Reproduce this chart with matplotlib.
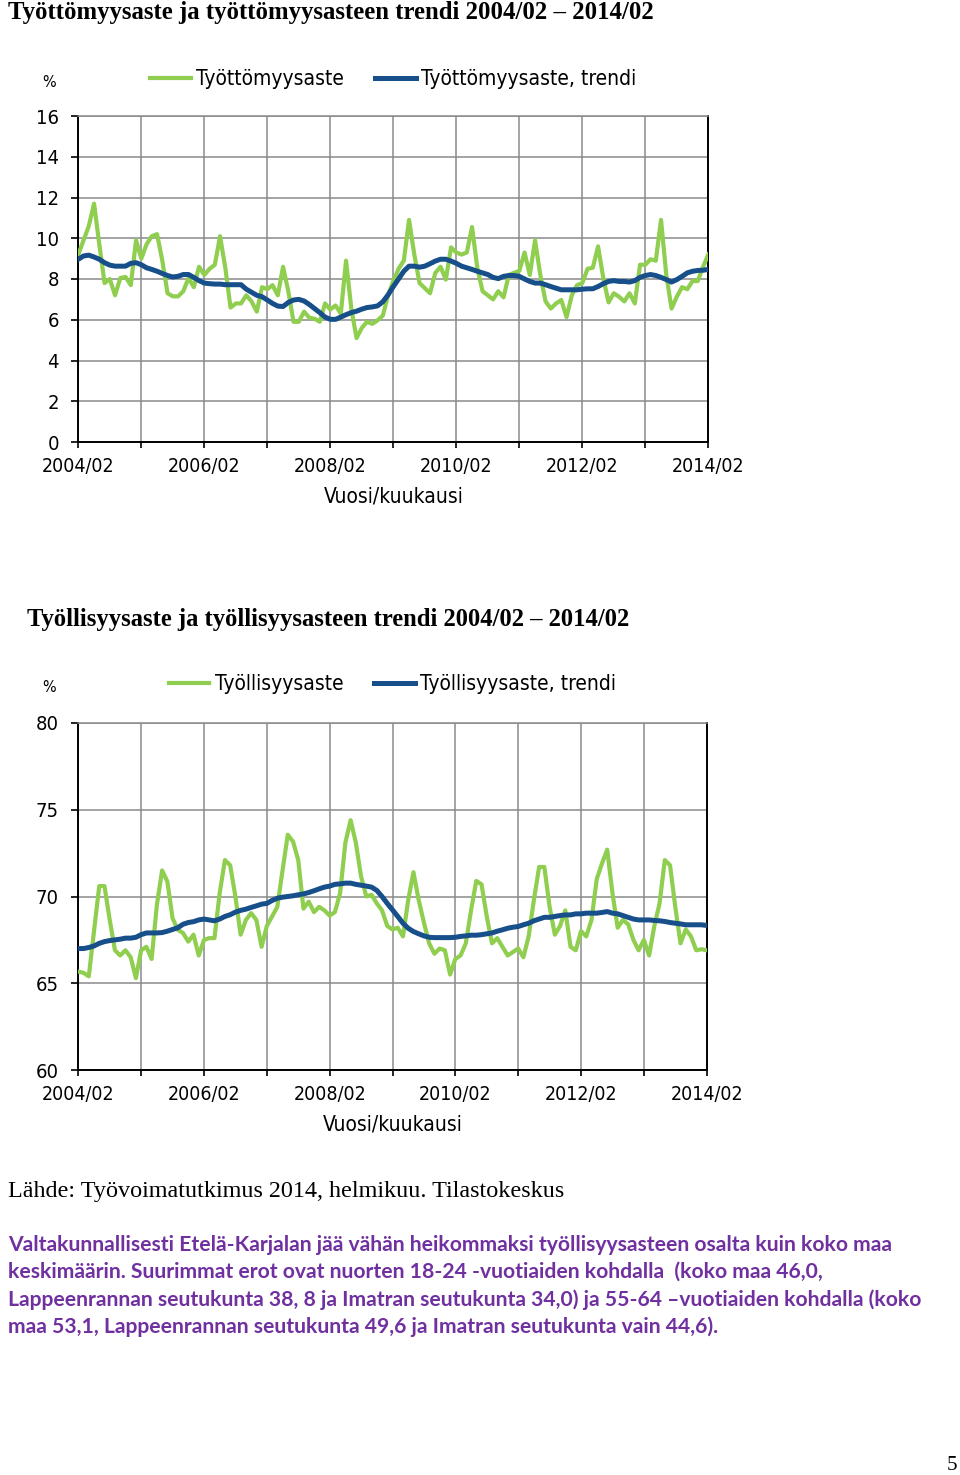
import matplotlib
matplotlib.use("Agg")
import matplotlib.pyplot as plt
import numpy as np

# kuukaudet 2004/02 ... 2014/02 (121 havaintoa)
kuukaudet = np.arange(121)
vuosi_tikit = np.arange(0, 121, 12)
vuosi_nimet = ["2004/02", "", "2006/02", "", "2008/02", "", "2010/02", "", "2012/02", "", "2014/02"]

tyottomyysaste = [
    9.2, 9.9, 10.6, 11.7, 9.7, 7.8, 8.0, 7.2, 8.05, 8.1, 7.7, 9.9,
    9.0, 9.7, 10.1, 10.2, 8.9, 7.3, 7.15, 7.15, 7.4, 8.05, 7.6, 8.6,
    8.2, 8.5, 8.7, 10.1, 8.55, 6.6, 6.8, 6.8, 7.2, 6.9, 6.4, 7.6,
    7.5, 7.7, 7.2, 8.6, 7.4, 5.9, 5.9, 6.4, 6.1, 6.05, 5.9, 6.8,
    6.5, 6.7, 6.3, 8.9, 6.55, 5.1, 5.6, 5.9, 5.8, 5.97, 6.2, 7.2,
    7.9, 8.5, 8.9, 10.9, 9.2, 7.8, 7.55, 7.3, 8.3, 8.6, 7.97, 9.55,
    9.3, 9.2, 9.3, 10.55, 8.55, 7.4, 7.2, 7.0, 7.4, 7.1, 8.2, 8.3,
    8.4, 9.3, 8.2, 9.9, 8.2, 6.9, 6.55, 6.8, 6.97, 6.13, 7.2, 7.7,
    7.8, 8.5, 8.55, 9.6, 8.05, 6.85, 7.3, 7.13, 6.9, 7.3, 6.8, 8.7,
    8.7, 8.97, 8.9, 10.9, 8.2, 6.55, 7.13, 7.6, 7.5, 7.9, 7.9, 8.6,
    9.2,
]
tyottomyysaste_trendi = [
    8.97, 9.13, 9.17, 9.08, 8.97, 8.8, 8.68, 8.63, 8.63, 8.63, 8.77, 8.8,
    8.7, 8.55, 8.47, 8.38, 8.27, 8.17, 8.1, 8.13, 8.22, 8.22, 8.08, 7.92,
    7.8, 7.77, 7.75, 7.75, 7.72, 7.72, 7.72, 7.72, 7.5, 7.35, 7.2, 7.13,
    6.97, 6.8, 6.67, 6.65, 6.85, 6.97, 7.0, 6.92, 6.75, 6.55, 6.35, 6.13,
    6.02, 6.02, 6.13, 6.25, 6.35, 6.42, 6.52, 6.6, 6.63, 6.68, 6.88, 7.22,
    7.63, 8.0, 8.38, 8.63, 8.63, 8.58, 8.63, 8.75, 8.88, 8.97, 8.97, 8.88,
    8.77, 8.63, 8.55, 8.47, 8.38, 8.3, 8.22, 8.08, 8.02, 8.13, 8.17, 8.17,
    8.13, 8.0, 7.88, 7.8, 7.8, 7.72, 7.63, 7.55, 7.47, 7.47, 7.47, 7.47,
    7.5, 7.52, 7.52, 7.63, 7.77, 7.88, 7.92, 7.88, 7.88, 7.85, 7.92, 8.08,
    8.17, 8.22, 8.17, 8.08, 7.97, 7.85, 7.97, 8.13, 8.3, 8.38, 8.42, 8.43,
    8.47,
]
tyollisyysaste = [
    65.67, 65.6, 65.4, 68.0, 70.6, 70.6, 68.65, 66.9, 66.6, 66.9, 66.5, 65.3,
    66.9, 67.1, 66.4, 69.5, 71.5, 70.87, 68.75, 68.08, 67.9, 67.4, 67.8, 66.6,
    67.5, 67.6, 67.6, 70.2, 72.1, 71.8, 70.0, 67.8, 68.65, 69.04, 68.65, 67.1,
    68.3, 68.85, 69.4, 71.5, 73.56, 73.17, 72.1, 69.3, 69.7, 69.1, 69.4, 69.2,
    68.9, 69.1, 70.2, 73.1, 74.4, 73.1, 71.15, 70.0, 70.1, 69.6, 69.2, 68.3,
    68.1, 68.2, 67.7, 69.8, 71.4, 69.8, 68.5, 67.3, 66.7, 67.0, 66.9, 65.5,
    66.4, 66.6, 67.3, 69.2, 70.9, 70.7, 68.85, 67.3, 67.6, 67.1, 66.6, 66.8,
    67.0, 66.5, 67.7, 69.8, 71.7, 71.7, 69.4, 67.8, 68.3, 69.2, 67.1, 66.9,
    68.0, 67.7, 68.65, 71.0, 71.9, 72.7, 70.2, 68.2, 68.65, 68.4, 67.5, 66.9,
    67.5, 66.6, 68.3, 69.6, 72.1, 71.8, 69.4, 67.3, 68.1, 67.7, 66.9, 66.96,
    66.9,
]
tyollisyysaste_trendi = [
    67.0, 67.0, 67.06, 67.15, 67.3, 67.4, 67.46, 67.5, 67.54, 67.6, 67.6, 67.65,
    67.8, 67.9, 67.9, 67.9, 67.92, 68.0, 68.1, 68.2, 68.4, 68.5, 68.55, 68.65,
    68.7, 68.65, 68.6, 68.7, 68.85, 68.95, 69.1, 69.2, 69.27, 69.37, 69.46, 69.56,
    69.6, 69.77, 69.9, 69.96, 70.0, 70.04, 70.1, 70.15, 70.23, 70.33, 70.44, 70.54,
    70.6, 70.7, 70.73, 70.77, 70.77, 70.7, 70.65, 70.6, 70.54, 70.35, 70.0, 69.6,
    69.23, 68.85, 68.46, 68.17, 67.98, 67.85, 67.73, 67.65, 67.63, 67.63, 67.63, 67.63,
    67.65, 67.7, 67.73, 67.77, 67.77, 67.8, 67.85, 67.9, 68.0, 68.08, 68.17, 68.23,
    68.27, 68.37, 68.46, 68.6, 68.7, 68.8, 68.8, 68.85, 68.9, 68.94, 68.94, 69.0,
    69.0, 69.04, 69.04, 69.04, 69.08, 69.13, 69.04, 69.0, 68.9, 68.8, 68.7, 68.65,
    68.65, 68.65, 68.62, 68.6, 68.56, 68.5, 68.46, 68.42, 68.37, 68.37, 68.37, 68.37,
    68.33,
]

VIHREA = "#8fce4f"
SININEN = "#174f8a"
HARMAA = "#8a8a8a"
SERIF = ["Liberation Serif", "DejaVu Serif"]
KAPEA = dict(family="DejaVu Sans", stretch="condensed")


def piirra(ax, sarja, trendi, nimi, nimi_trendi, yrajat, ytikit, legend_y):
    ax.plot(kuukaudet, sarja, color=VIHREA, linewidth=3, label=nimi, zorder=3)
    ax.plot(kuukaudet, trendi, color=SININEN, linewidth=3.6, label=nimi_trendi, zorder=4)
    ax.set_xlim(0, 120)
    ax.set_ylim(*yrajat)
    ax.set_xticks(vuosi_tikit)
    ax.set_xticklabels(vuosi_nimet, fontsize=14, **KAPEA)
    ax.set_yticks(ytikit)
    ax.set_yticklabels([str(t) for t in ytikit], fontsize=14.5, **KAPEA)
    ax.tick_params(axis="x", direction="out", length=4, width=1.2, pad=7)
    ax.tick_params(axis="y", direction="out", length=5, width=1.2, pad=9)
    ax.grid(True, color=HARMAA, linewidth=1.1)
    ax.set_axisbelow(True)
    for s in ["left", "bottom", "right"]:
        ax.spines[s].set_color("black")
        ax.spines[s].set_linewidth(1.4)
    ax.spines["top"].set_color(HARMAA)
    ax.spines["top"].set_linewidth(1.1)
    ax.set_xlabel("Vuosi/kuukausi", fontsize=15, labelpad=7, **KAPEA)
    ax.text(-0.046, legend_y - 0.01, "%", transform=ax.transAxes, fontsize=11.5,
            ha="center", va="center", **KAPEA)
    ax.legend(loc="center", bbox_to_anchor=(0.5, legend_y), ncol=2, frameon=False,
              prop=dict(size=15, **KAPEA), handlelength=1.95, handletextpad=0.25,
              columnspacing=1.5)


fig = plt.figure(figsize=(9.6, 14.75), dpi=100)

fig.text(8 / 960, 1 - 12 / 1475, "Työttömyysaste ja työttömyysasteen trendi 2004/02 – 2014/02",
         family=SERIF, fontsize=17.8, fontweight="bold", va="center", ha="left")
ax1 = fig.add_axes([78.3 / 960, (1475 - 442) / 1475, 630 / 960, 326 / 1475])
piirra(ax1, tyottomyysaste, tyottomyysaste_trendi, "Työttömyysaste", "Työttömyysaste, trendi",
       (0, 16), list(range(0, 17, 2)), 1 + 37 / 326)

fig.text(27 / 960, 1 - 619 / 1475, "Työllisyysaste ja työllisyysasteen trendi 2004/02 – 2014/02",
         family=SERIF, fontsize=17.7, fontweight="bold", va="center", ha="left")
ax2 = fig.add_axes([78.3 / 960, (1475 - 1070) / 1475, 628.4 / 960, 347 / 1475])
piirra(ax2, tyollisyysaste, tyollisyysaste_trendi, "Työllisyysaste", "Työllisyysaste, trendi",
       (60, 80), [60, 65, 70, 75, 80], 1 + 39 / 347)

fig.text(8 / 960, 1 - 1192 / 1475, "Lähde: Työvoimatutkimus 2014, helmikuu. Tilastokeskus",
         family=SERIF, fontsize=17.4, va="center", ha="left")

kappale = [
    "Valtakunnallisesti Etelä-Karjalan jää vähän heikommaksi työllisyysasteen osalta kuin koko maa",
    "keskimäärin. Suurimmat erot ovat nuorten 18-24 -vuotiaiden kohdalla  (koko maa 46,0,",
    "Lappeenrannan seutukunta 38, 8 ja Imatran seutukunta 34,0) ja 55-64 –vuotiaiden kohdalla (koko",
    "maa 53,1, Lappeenrannan seutukunta 49,6 ja Imatran seutukunta vain 44,6).",
]
rivi_y = [1245, 1272, 1300, 1327]
for teksti, y in zip(kappale, rivi_y):
    fig.text(8 / 960, 1 - y / 1475, teksti, family=["Lato", "DejaVu Sans"], fontweight="bold",
             fontsize=15.2, color="#7030a0", va="center", ha="left")

fig.text(952 / 960, 1 - 1465 / 1475, "5", family=SERIF, fontsize=15, va="center", ha="center")

fig.savefig("out.png", dpi=100, facecolor="white")
